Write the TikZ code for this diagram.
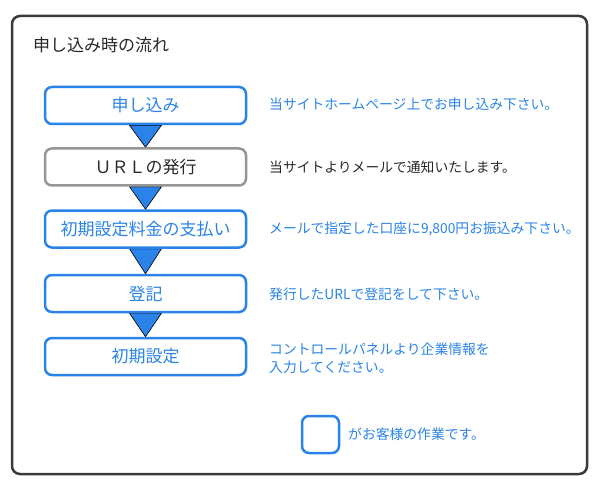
\documentclass[tikz,border=0pt]{standalone}
\usepackage{fontspec}
\setmainfont{Noto Sans CJK JP}
\usepackage{tikz}
\usetikzlibrary{positioning}
\usetikzlibrary{backgrounds}
\definecolor{flowblue}{RGB}{42,131,232}
\definecolor{flowgray}{RGB}{150,150,150}
\definecolor{framegray}{RGB}{58,58,58}
\definecolor{inkdark}{RGB}{40,40,40}
\tikzset{stepbox/.style = {draw=flowblue, line width=2.5, rounded corners=7,
                           minimum width=201, minimum height=37, fill=white,
                           text=flowblue, font=\fontsize{17}{17}\selectfont}}
\tikzset{ownbox/.style = {stepbox, draw=flowgray, text=inkdark}}
\tikzset{note/.style = {anchor=west, text=flowblue, align=left, inner sep=0,
                        font=\fontsize{13.8}{17.5}\selectfont}}
\tikzset{downtri/.style = {fill=flowblue, draw=black, line width=0.6, line join=miter}}
\begin{document}
\begin{tikzpicture}[x=1pt, y=-1pt]
      \useasboundingbox (0,0) rectangle (600,500);
      \draw[framegray, line width=2.5, rounded corners=8] (12,16) rectangle (587,474);
      \node[anchor=west, inner sep=0, text=inkdark, font=\fontsize{17}{17}\selectfont]
           (title) at (33,45) {申し込み時の流れ};
      \node[stepbox] (s1) at (145.5,105.5) {申し込み};
      \node[ownbox]  (s2) at (145.5,167)   {ＵＲＬの発行};
      \node[stepbox] (s3) at (145.5,229)   {初期設定料金の支払い};
      \node[stepbox] (s4) at (145.5,293.5) {登記};
      \node[stepbox] (s5) at (145.5,356.5) {初期設定};
      \begin{scope}[on background layer]
      \draw[downtri] ([xshift=-16]s1.south) -- ([xshift=16]s1.south) -- (s2.north) -- cycle;
      \draw[downtri] ([xshift=-16]s2.south) -- ([xshift=16]s2.south) -- (s3.north) -- cycle;
      \draw[downtri] ([xshift=-16]s3.south) -- ([xshift=16]s3.south) -- (s4.north) -- cycle;
      \draw[downtri] ([xshift=-16]s4.south) -- ([xshift=16]s4.south) -- (s5.north) -- cycle;
      \end{scope}
      \node[note] (n1) at (269,104) {当サイトホームページ上でお申し込み下さい。};
      \node[note, text=inkdark] (n2) at (269,167) {当サイトよりメールで通知いたします。};
      \node[note] (n3) at (269,229.5) {メールで指定した口座に9,800円お振込み下さい。};
      \node[note] (n4) at (269,294) {発行したURLで登記をして下さい。};
      \node[note] (n5) at (269,358.5) {コントロールパネルより企業情報を\\入力してください。};
      \node[stepbox, minimum width=37, minimum height=37] (key) at (320.5,434.5) {};
      \node[note] (keytext) at (348,434) {がお客様の作業です。};
\end{tikzpicture}
\end{document}
